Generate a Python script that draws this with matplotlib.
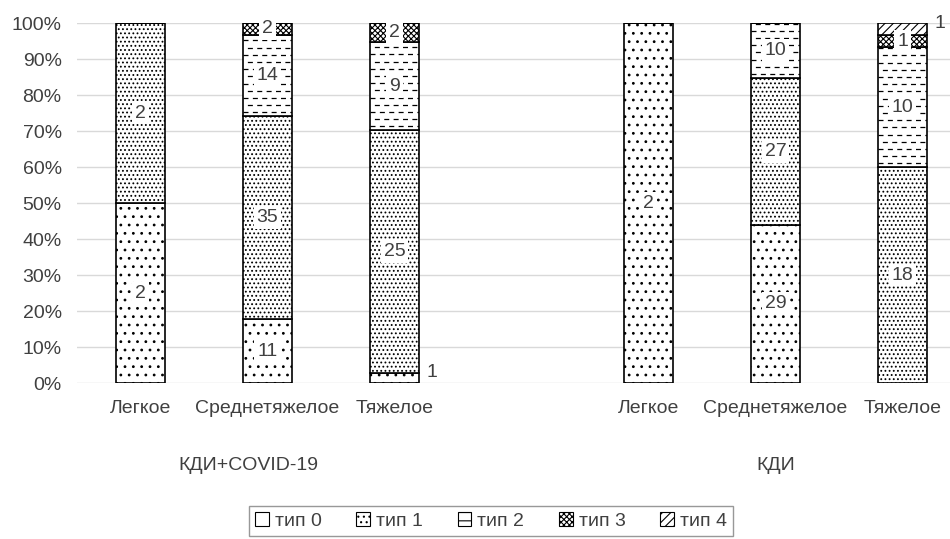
import numpy as np
import matplotlib
matplotlib.use('Agg')
import matplotlib.pyplot as plt
from matplotlib.patches import Patch
from matplotlib.transforms import blended_transform_factory

# Данные
categories = ['Легкое', 'Среднетяжелое', 'Тяжелое', 'Легкое', 'Среднетяжелое', 'Тяжелое']
groups = ['КДИ+COVID-19', 'КДИ']
positions = [0, 1, 2, 4, 5, 6]
series_names = ['тип 0', 'тип 1', 'тип 2', 'тип 3', 'тип 4']
tip0 = [2, 11, 1, 2, 29, 0]
tip1 = [2, 35, 25, 0, 27, 18]
tip2 = [0, 14, 9, 0, 10, 10]
tip3 = [0, 2, 2, 0, 0, 1]
tip4 = [0, 0, 0, 0, 0, 1]
yticks = [0, 10, 20, 30, 40, 50, 60, 70, 80, 90, 100]

plt.rcParams['font.family'] = ['Liberation Sans', 'DejaVu Sans']
plt.rcParams['hatch.linewidth'] = 0.8

series = np.array([tip0, tip1, tip2, tip3, tip4], dtype=float)
totals = series.sum(axis=0)
pct = series / totals * 100

hatches = ['..', '....', '', 'xxxxxx', '////']
outside = {(0, 2), (4, 5)}   # подписи рядом со столбцом

fig = plt.figure(figsize=(9.5, 5.39), dpi=100)
ax = fig.add_axes([77 / 950, 1 - 383 / 539, (966 - 77) / 950, 360 / 539])

width = 0.39
bottom = np.zeros(len(positions))
bars_all = []
for i in range(len(series_names)):
    bars = ax.bar(positions, pct[i], width, bottom=bottom, color='white',
                  edgecolor='black', linewidth=1.2, hatch=hatches[i], zorder=2)
    bars_all.append(bars)
    for j, b in enumerate(bars):
        v = series[i, j]
        if v == 0:
            continue
        yc = bottom[j] + pct[i, j] / 2
        if (i, j) in outside:
            yl = bottom[j] + pct[i, j] if i == 4 else yc + 1.5
            ax.text(positions[j] + width / 2 + 0.06, yl, f'{int(v)}', ha='left',
                    va='center', fontsize=14, color='#404040', zorder=5, clip_on=False)
        else:
            ax.text(positions[j], yc, f'{int(v)}', ha='center', va='center',
                    fontsize=14, color='#404040', zorder=5,
                    bbox=dict(boxstyle='square,pad=0.15', fc='white', ec='none'))
    bottom += pct[i]

# пунктирная штриховка для типа 2
b2 = bars_all[2]
for j, b in enumerate(b2):
    if pct[2, j] == 0:
        continue
    y0, h = b.get_y(), b.get_height()
    x0, w = b.get_x(), b.get_width()
    k = 0
    y = y0 + 1.0
    while y < y0 + h:
        off = 0 if k % 2 == 0 else 4
        ln, = ax.plot([x0, x0 + w], [y, y], color='black', lw=0.9,
                      linestyle=(off, (4, 3.5)), zorder=3)
        ln.set_clip_path(b)
        y += 2.0
        k += 1

ax.set_ylim(0, 100)
ax.set_xlim(-0.5, 6.5)
ax.set_yticks(yticks)
ax.set_yticklabels([f'{t}%' for t in yticks])
ax.set_xticks(positions)
ax.set_xticklabels(categories)
ax.tick_params(axis='y', length=0, pad=11, labelsize=14, labelcolor='#404040')
ax.tick_params(axis='x', length=0, pad=12, labelsize=14, labelcolor='#404040')
ax.grid(axis='y', color='#d9d9d9', linewidth=1, zorder=0)
ax.set_axisbelow(True)
for s in ax.spines.values():
    s.set_visible(False)

trans = blended_transform_factory(ax.transData, fig.transFigure)
ax.text(np.mean(positions[:3]) - 0.15, 1 - 466 / 539, groups[0], transform=trans,
        ha='center', va='center', fontsize=14, color='#404040')
ax.text(np.mean(positions[3:]), 1 - 466 / 539, groups[1], transform=trans,
        ha='center', va='center', fontsize=14, color='#404040')

handles = [Patch(facecolor='white', edgecolor='black', hatch=h, linewidth=0.8)
           for h in ['', '...', '--', 'xxxxxx', '////']]
fig.legend(handles, series_names, loc='center', bbox_to_anchor=(491 / 950, 1 - 521 / 539),
           ncol=5, fontsize=14, frameon=True, fancybox=False, edgecolor='#7f7f7f',
           handlelength=0.7, handleheight=0.7, handletextpad=0.3, columnspacing=1.8,
           borderpad=0.3, labelcolor='#404040')

fig.savefig('out.png', dpi=100)
